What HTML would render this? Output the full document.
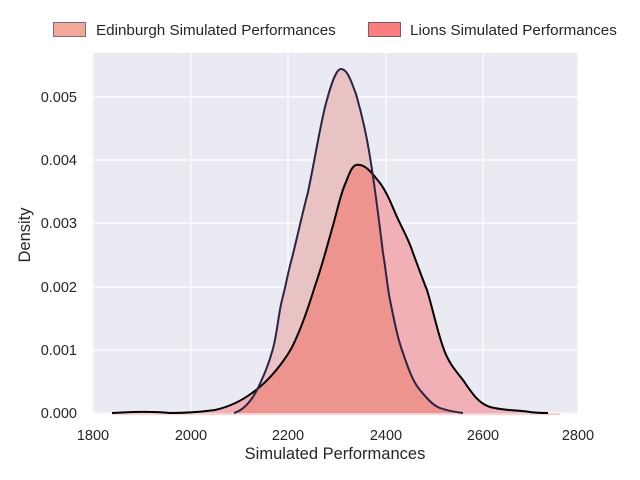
<!DOCTYPE html>
<html><head><style>body{margin:0;background:#fff}svg{display:block}text{font-family:"Liberation Sans",sans-serif;fill:#262626}</style></head><body>
<svg width="640" height="480" viewBox="0 0 640 480">
<rect x="92" y="53" width="486" height="361" fill="#eaeaf2"/>
<g stroke="#fff" stroke-width="1.2">
<line x1="93" y1="53" x2="93" y2="414"/><line x1="191" y1="53" x2="191" y2="414"/><line x1="288" y1="53" x2="288" y2="414"/><line x1="386" y1="53" x2="386" y2="414"/><line x1="483" y1="53" x2="483" y2="414"/><line x1="578" y1="53" x2="578" y2="414"/>
<line x1="92" y1="97" x2="578" y2="97"/><line x1="92" y1="160" x2="578" y2="160"/><line x1="92" y1="223" x2="578" y2="223"/><line x1="92" y1="287" x2="578" y2="287"/><line x1="92" y1="350" x2="578" y2="350"/><line x1="92" y1="413" x2="578" y2="413"/>
</g>
<defs>
<path id="lo" d="M112,413 C130,412 150,411 170,413 C185,413 200,412 215,410 C228,407 240,402 252,393 C262,386 272,376 281,364 C290,352 293,346 298,334 C305,318 310,302 315,286 C322,266 326,250 332,229 C338,208 341,192 346,182 C349,174 352,166 356,165 C366,163 374,176 380,183 C388,194 392,206 397,217 C403,230 409,240 413,253 C418,266 422,278 427,290 C433,310 437,330 443,347 C448,362 455,370 463,380 C472,393 478,403 490,407 C505,411 520,410 530,412 C537,413 542,413 548,413"/>
<clipPath id="lc"><path id="lp" d="M112,413 C130,412 150,411 170,413 C185,413 200,412 215,410 C228,407 240,402 252,393 C262,386 272,376 281,364 C290,352 293,346 298,334 C305,318 310,302 315,286 C322,266 326,250 332,229 C338,208 341,192 346,182 C349,174 352,166 356,165 C366,163 374,176 380,183 C388,194 392,206 397,217 C403,230 409,240 413,253 C418,266 422,278 427,290 C433,310 437,330 443,347 C448,362 455,370 463,380 C472,393 478,403 490,407 C505,411 520,410 530,412 C537,413 542,413 548,413 Z"/></clipPath>
<path id="eo" d="M234,413 C244,410 252,400 258,388 C264,375 268,366 272,352 C277,336 278,316 282,300 C286,285 288,272 292,258 C297,238 302,215 308,192 C314,164 319,132 325,107 C331,84 336,69 341,69 C348,69 352,84 356,94 C362,115 366,133 369,151 C374,180 379,220 383,253 C386,270 387,285 390,300 C394,320 398,340 403,353 C408,368 413,382 420,390 C428,400 434,406 440,408 C448,411 455,412 463,413"/>
<path id="ep" d="M234,413 C244,410 252,400 258,388 C264,375 268,366 272,352 C277,336 278,316 282,300 C286,285 288,272 292,258 C297,238 302,215 308,192 C314,164 319,132 325,107 C331,84 336,69 341,69 C348,69 352,84 356,94 C362,115 366,133 369,151 C374,180 379,220 383,253 C386,270 387,285 390,300 C394,320 398,340 403,353 C408,368 413,382 420,390 C428,400 434,406 440,408 C448,411 455,412 463,413 Z"/>
</defs>
<use href="#lp" fill="#f0b0b6"/>
<use href="#ep" fill="#e9c3c3"/>
<g clip-path="url(#lc)"><use href="#ep" fill="#ee948f"/></g>
<line x1="112" y1="414" x2="560" y2="414" stroke="#fcd0d0" stroke-width="2"/>
<use href="#lo" fill="none" stroke="#000" stroke-width="2"/>
<use href="#eo" fill="none" stroke="#2a2445" stroke-width="2"/>
<g font-size="14.5" text-anchor="end">
<text x="77" y="418">0.000</text><text x="77" y="355">0.001</text><text x="77" y="292">0.002</text><text x="77" y="228">0.003</text><text x="77" y="165">0.004</text><text x="77" y="102">0.005</text>
</g>
<g font-size="14.5" text-anchor="middle">
<text x="93" y="440">1800</text><text x="191" y="440">2000</text><text x="288" y="440">2200</text><text x="386" y="440">2400</text><text x="483" y="440">2600</text><text x="578" y="440">2800</text>
</g>
<text x="335" y="459" font-size="16.5" text-anchor="middle">Simulated Performances</text>
<text transform="translate(30,235) rotate(-90)" font-size="16.5" text-anchor="middle">Density</text>
<rect x="53.5" y="22.5" width="32" height="14" fill="#f4a898" stroke="#7a6a7a"/>
<text x="96" y="35" font-size="15.2">Edinburgh Simulated Performances</text>
<rect x="368.5" y="22.5" width="32" height="14" fill="#fa7e7e" stroke="#7a5a6a"/>
<text x="410" y="35" font-size="15.2">Lions Simulated Performances</text>
</svg>
</body></html>
